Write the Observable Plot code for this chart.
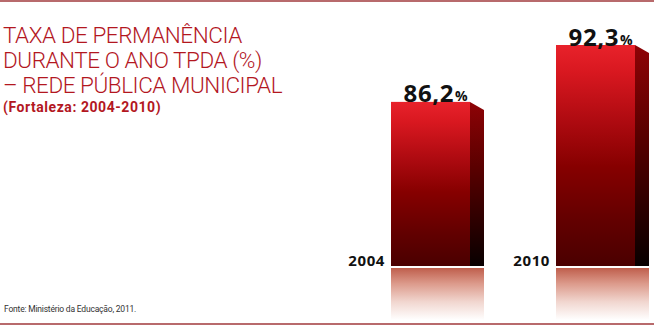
<!DOCTYPE html>
<html><head><meta charset="utf-8">
<script src="https://cdn.jsdelivr.net/npm/d3@7"></script>
<script src="https://cdn.jsdelivr.net/npm/@observablehq/plot@0.6"></script>
<style>
body{margin:0;background:#fff;}
#wrap{position:relative;width:654px;height:326px;overflow:hidden;background:#fff;}
#wrap svg{position:absolute;left:0;top:0;}
#wrap svg text{letter-spacing:0.6px;}
.rule{position:absolute;left:0;width:654px;height:2px;background:#b86a6c;}
.title{position:absolute;left:3px;top:22.5px;font-family:Roboto,sans-serif;font-weight:300;font-size:22.5px;line-height:25px;color:#b3171f;letter-spacing:-0.45px;white-space:nowrap;}
.sub{position:absolute;left:3px;top:99.5px;font-family:Roboto,sans-serif;font-weight:700;font-size:14px;line-height:14px;color:#b3171f;letter-spacing:0.55px;white-space:nowrap;}
.cap{position:absolute;left:4px;top:303px;font-family:Roboto,sans-serif;font-size:8.5px;line-height:12px;color:#333;letter-spacing:-0.2px;white-space:nowrap;}
</style>
</head><body>
<div id="wrap">
  <div class="rule" style="top:0px"></div>
  <div class="rule" style="top:323px"></div>
</div>
<script>
const titleLines = ["TAXA DE PERMANÊNCIA", "DURANTE O ANO TPDA (%)", "– REDE PÚBLICA MUNICIPAL"];
const subtitle = "(Fortaleza: 2004-2010)";
const caption = "Fonte: Ministério da Educação, 2011.";
const years = ["2004", "2010"];
const values = [86.2, 92.3];
const valueLabels = ["86,2", "92,3"];
const baseValue = 68.6;

const data = years.map((year, i) => ({year, value: values[i], label: valueLabels[i]}));

const SIDE_W = 14, SIDE_SLANT = 8, REFL_GAP = 2, REFL_H = 52;

function defsMark() {
  const svg = d3.create("svg:g");
  const defs = svg.append("defs");
  const f = defs.append("linearGradient").attr("id", "gFront").attr("x1", 0).attr("y1", 0).attr("x2", 0).attr("y2", 1);
  [[0, "#e8222b"], [0.12, "#d91820"], [0.35, "#ad0a10"], [0.55, "#860000"], [0.8, "#620000"], [1, "#4a0000"]]
    .forEach(([o, c]) => f.append("stop").attr("offset", o).attr("stop-color", c));
  const s = defs.append("linearGradient").attr("id", "gSide").attr("x1", 0).attr("y1", 0).attr("x2", 0).attr("y2", 1);
  [[0, "#8e0306"], [0.4, "#5a0000"], [0.75, "#2a0000"], [1, "#080000"]]
    .forEach(([o, c]) => s.append("stop").attr("offset", o).attr("stop-color", c));
  const r = defs.append("linearGradient").attr("id", "gRefl").attr("x1", 0).attr("y1", 0).attr("x2", 0).attr("y2", 1);
  [[0, "#bf5e4c"], [0.3, "#dc9a8b"], [0.65, "#f1d6cf"], [1, "#ffffff"]]
    .forEach(([o, c]) => r.append("stop").attr("offset", o).attr("stop-color", c));
  return svg.node();
}

function reflMark(index, scales) {
  const x = scales.x, y = scales.y, bw = x.bandwidth();
  const g = d3.create("svg:g");
  data.forEach(d => {
    g.append("rect")
      .attr("x", x(d.year)).attr("y", y(baseValue) + REFL_GAP)
      .attr("width", bw + SIDE_W).attr("height", REFL_H)
      .attr("fill", "url(#gRefl)");
  });
  return g.node();
}

function sideMark(index, scales) {
  const x = scales.x, y = scales.y, bw = x.bandwidth();
  const g = d3.create("svg:g");
  data.forEach(d => {
    const x0 = x(d.year) + bw, x1 = x0 + SIDE_W, yt = y(d.value), yb = y(baseValue);
    g.append("path")
      .attr("d", `M${x0},${yt}L${x1},${yt + SIDE_SLANT}L${x1},${yb}L${x0},${yb}Z`)
      .attr("fill", "url(#gSide)");
  });
  return g.node();
}

const chart = Plot.plot({
  width: 654, height: 326, margin: 0,
  style: {background: "transparent", overflow: "visible"},
  x: {type: "band", domain: years, range: [390, 635], paddingInner: 0.524, paddingOuter: 0, axis: null},
  y: {domain: [baseValue, 92.3], range: [266, 45], axis: null},
  marks: [
    defsMark,
    reflMark,
    Plot.barY(data, {x: "year", y1: baseValue, y2: "value", fill: "url(#gFront)", inset: 0}),
    sideMark,
    Plot.text(data, {x: "year", y: "value", text: "label", textAnchor: "end", lineAnchor: "bottom", dx: 23, dy: 0,
      fontSize: 24, fontWeight: 700, fontFamily: "Open Sans", fill: "#111"}),
    Plot.text(data, {x: "year", y: "value", text: () => "%", textAnchor: "start", lineAnchor: "bottom", dx: 24, dy: -1,
      fontSize: 14, fontWeight: 700, fontFamily: "Open Sans", fill: "#111"}),
    Plot.text(data, {x: "year", y: baseValue, text: "year", textAnchor: "end", lineAnchor: "bottom", dx: -46, dy: -1,
      fontSize: 15, fontWeight: 700, fontFamily: "Open Sans", fill: "#111"})
  ]
});

const wrap = document.getElementById("wrap");
wrap.insertBefore(chart, wrap.firstChild);
const t = document.createElement("div"); t.className = "title"; t.innerHTML = titleLines.join("<br>"); wrap.appendChild(t);
const s = document.createElement("div"); s.className = "sub"; s.textContent = subtitle; wrap.appendChild(s);
const c = document.createElement("div"); c.className = "cap"; c.textContent = caption; wrap.appendChild(c);
</script>
</body></html>
